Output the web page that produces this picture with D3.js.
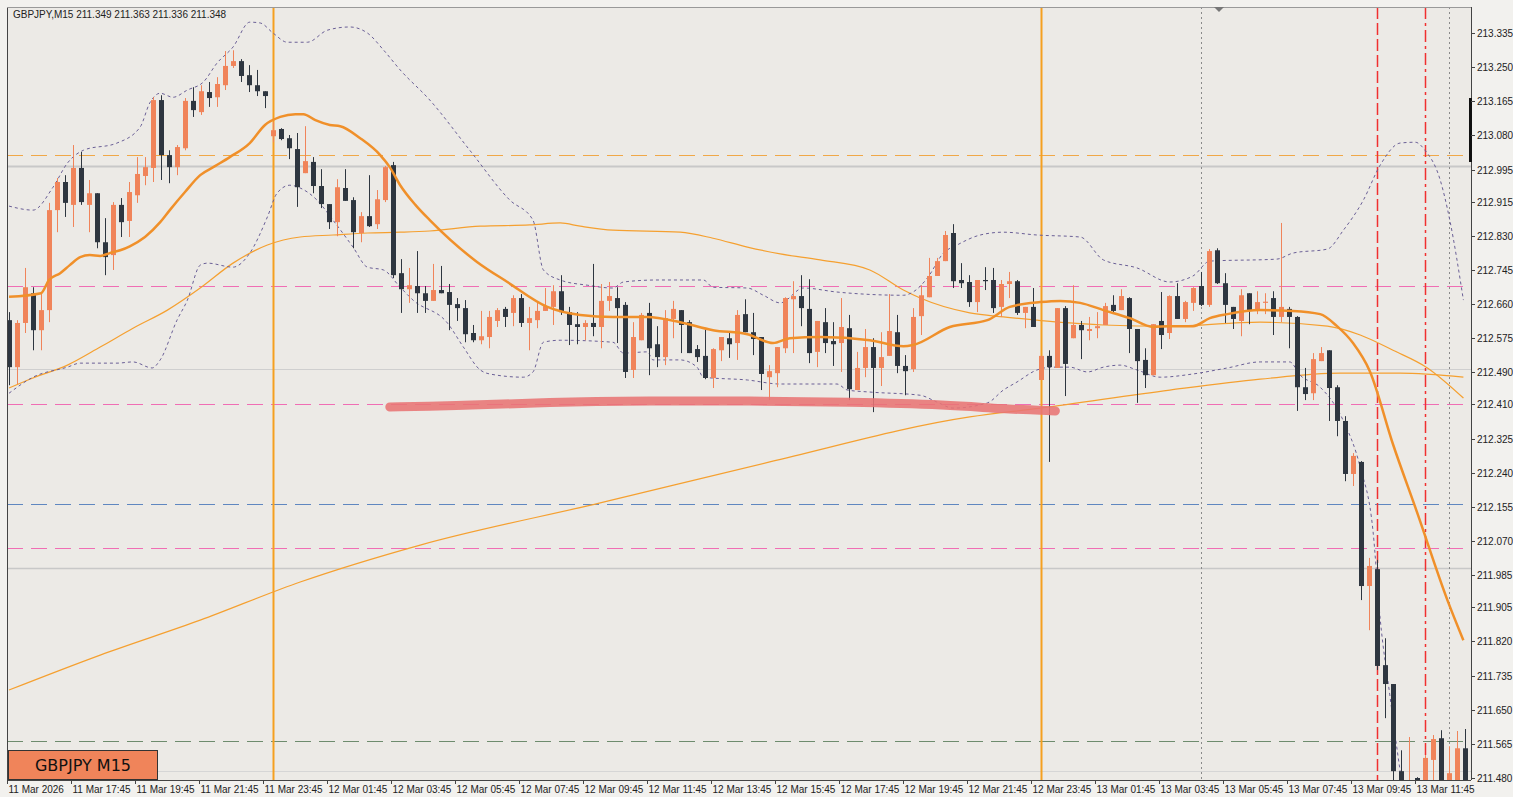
<!DOCTYPE html>
<html><head><meta charset="utf-8">
<script src="https://cdn.jsdelivr.net/npm/d3@7"></script>
<style>html,body{margin:0;padding:0;background:#fff;overflow:hidden}svg{display:block}</style>
</head><body><svg id="c" width="1513" height="797"></svg>
<script>
const opens=[212.620,212.503,212.613,212.687,212.595,212.645,212.894,212.964,212.907,212.999,
212.907,212.936,212.814,212.782,212.907,212.867,212.931,212.979,212.999,213.168,
213.031,213.001,213.048,213.166,213.138,213.188,213.175,213.205,213.253,213.265,
213.230,213.205,213.190,213.078,213.096,213.073,213.046,212.986,213.014,212.954,
212.909,212.864,212.949,212.919,212.837,212.879,212.859,212.919,213.006,212.737,
212.697,212.705,212.687,212.668,212.695,212.690,212.660,212.650,212.588,212.570,
212.578,212.618,212.648,212.638,212.675,212.613,212.620,212.643,212.653,212.692,
212.640,212.610,212.603,212.613,212.603,212.668,212.675,212.658,212.496,212.570,
212.638,212.560,212.528,212.623,212.645,212.615,212.548,212.531,212.476,212.545,
212.575,212.563,212.635,212.590,212.578,212.478,212.488,212.550,212.672,212.680,
212.648,212.541,212.615,212.568,212.563,212.600,212.446,212.501,212.553,212.501,
212.531,212.590,212.506,212.498,212.630,212.677,212.730,212.767,212.837,212.720,
212.715,212.665,212.720,212.720,212.653,212.710,212.717,212.638,212.653,212.471,
212.531,212.501,212.650,212.575,212.608,212.593,212.600,212.608,212.658,212.645,
212.675,212.598,212.521,212.483,212.618,212.588,212.680,212.623,212.663,212.705,
212.658,212.794,212.712,212.653,212.618,212.687,212.645,212.663,212.675,212.628,
212.648,212.628,212.453,212.438,212.518,212.545,212.453,212.369,212.237,212.267,
211.958,212.000,211.761,211.714,211.497,211.425,211.480,211.450,211.525,211.579,
211.450,211.467,211.554];
const highs=[212.640,212.620,212.750,212.702,212.687,212.912,212.974,212.981,213.056,213.039,
212.969,212.936,212.874,212.914,212.924,212.964,213.026,213.026,213.175,213.180,
213.043,213.056,213.173,213.200,213.205,213.213,213.225,213.290,213.292,213.270,
213.255,213.243,213.190,213.113,213.098,213.081,213.086,213.103,213.026,212.996,
212.909,212.971,212.996,212.926,212.889,212.981,212.944,213.004,213.014,212.772,
212.750,212.792,212.705,212.760,212.755,212.710,212.675,212.670,212.608,212.643,
212.643,212.650,212.653,212.682,212.685,212.653,212.665,212.700,212.707,212.732,
212.653,212.640,212.620,212.760,212.710,212.715,212.702,212.665,212.615,212.638,
212.663,212.605,212.645,212.668,212.645,212.620,212.558,212.598,212.550,212.578,
212.588,212.645,212.672,212.638,212.578,212.508,212.553,212.677,212.717,212.732,
212.722,212.618,212.650,212.615,212.675,212.633,212.541,212.598,212.575,212.590,
212.685,212.633,212.533,212.650,212.707,212.775,212.775,212.842,212.859,212.762,
212.732,212.720,212.752,212.750,212.720,212.740,212.720,212.653,212.700,212.531,
212.545,212.650,212.655,212.707,212.618,212.628,212.640,212.663,212.682,212.697,
212.677,212.598,212.550,212.610,212.690,212.682,212.712,212.668,212.702,212.740,
212.797,212.799,212.737,212.653,212.697,212.687,212.692,212.687,212.692,212.862,
212.653,212.630,212.501,212.538,212.553,212.545,212.458,212.381,212.289,212.269,
212.028,212.023,211.828,211.714,211.549,211.582,211.482,211.537,211.587,211.599,
211.559,211.597,211.602];
const lows=[212.458,212.461,212.588,212.545,212.545,212.615,212.839,212.877,212.852,212.907,
212.839,212.799,212.732,212.745,212.827,212.827,212.912,212.956,212.964,212.969,
212.961,212.981,213.043,213.126,213.131,213.151,213.151,213.193,213.248,213.213,
213.188,213.178,213.148,213.063,213.068,213.021,212.902,212.986,212.936,212.899,
212.847,212.829,212.917,212.799,212.814,212.852,212.847,212.914,212.725,212.638,
212.663,212.638,212.638,212.668,212.687,212.595,212.618,212.565,212.565,212.560,
212.550,212.603,212.603,212.605,212.603,212.545,212.600,212.643,212.608,212.633,
212.558,212.560,212.570,212.580,212.550,212.643,212.563,212.476,212.476,212.570,
212.483,212.503,212.508,212.575,212.538,212.538,212.516,212.473,212.451,212.518,
212.526,212.521,212.590,212.533,212.446,212.421,212.453,212.538,212.538,212.605,
212.513,212.503,212.538,212.506,212.491,212.421,212.446,212.478,212.391,212.456,
212.531,212.488,212.433,212.491,212.583,212.677,212.730,212.767,212.700,212.700,
212.653,212.640,212.695,212.638,212.628,212.675,212.633,212.600,212.603,212.471,
212.267,212.501,212.431,212.575,212.523,212.570,212.575,212.608,212.638,212.645,
212.538,212.414,212.451,212.483,212.548,212.573,212.623,212.615,212.643,212.655,
212.653,212.710,212.613,212.598,212.580,212.610,212.635,212.635,212.583,212.615,
212.550,212.394,212.421,212.421,212.518,212.369,212.331,212.219,212.207,211.923,
211.848,211.749,211.629,211.467,211.425,211.413,211.462,211.437,211.467,211.450,
211.437,211.450,211.450];
const closes=[212.503,212.613,212.702,212.595,212.645,212.894,212.964,212.912,212.999,212.914,
212.936,212.814,212.777,212.907,212.864,212.939,212.984,213.001,213.168,213.031,
213.001,213.051,213.166,213.143,213.190,213.173,213.208,213.253,213.265,213.228,
213.205,213.190,213.178,213.093,213.071,213.048,212.951,213.016,212.954,212.909,
212.864,212.951,212.917,212.839,212.879,212.854,212.921,213.001,212.732,212.697,
212.707,212.687,212.668,212.695,212.687,212.658,212.650,212.585,212.570,212.580,
212.628,212.645,212.628,212.675,212.613,212.625,212.643,212.655,212.692,212.640,
212.608,212.603,212.613,212.603,212.668,212.680,212.650,212.491,212.578,212.633,
212.550,212.528,212.625,212.648,212.608,212.538,212.528,212.476,212.548,212.578,
212.560,212.633,212.590,212.573,212.486,212.493,212.553,212.675,212.680,212.650,
212.538,212.618,212.563,212.560,212.603,212.448,212.501,212.553,212.501,212.528,
212.593,212.506,212.493,212.628,212.682,212.730,212.767,212.832,212.717,212.712,
212.665,212.720,212.717,212.650,212.710,212.717,212.638,212.653,212.603,212.531,
212.503,212.650,212.511,212.608,212.595,212.598,212.605,212.655,212.643,212.680,
212.598,212.518,212.483,212.610,212.583,212.680,212.623,212.665,212.700,212.658,
212.792,212.712,212.658,212.623,212.682,212.645,212.665,212.666,212.628,212.653,
212.628,212.453,212.436,212.523,212.538,212.451,212.369,212.237,212.282,211.958,
212.008,211.759,211.714,211.497,211.450,211.462,211.475,211.530,211.577,211.450,
211.492,211.554,211.462];

// indicator readings: [bar index, price]
const maFast=[[0,212.678],[4,212.687],[5,212.720],[6.4,212.737],[7.6,212.757],[8.9,212.777],[10.1,212.782],[11.4,212.780],[12.6,212.787],[13.9,212.794],[15.1,212.804],[17,212.827],[18.9,212.864],[20.1,212.894],[22,212.939],[23.9,212.981],[25.8,213.004],[27.6,213.026],[30.1,213.061],[32,213.106],[33.9,213.126],[35.8,213.133],[36.8,213.133],[38.3,213.118],[40.1,213.106],[41.4,213.103],[43.9,213.073],[46.4,213.031],[47.6,213.001],[48.9,212.956],[50.8,212.907],[52.6,212.869],[58.5,212.765],[62.3,212.715],[67.3,212.653],[71.4,212.633],[75.5,212.628],[79.8,212.628],[83.9,212.615],[88,212.595],[92.3,212.585],[95.5,212.563],[97.6,212.575],[101.4,212.578],[107.6,212.570],[111.8,212.555],[113,212.558],[117.6,212.603],[122.3,212.620],[125.1,212.653],[128.9,212.665],[131.4,212.668],[133.9,212.663],[136.8,212.645],[140.1,212.625],[143,212.603],[145.1,212.605],[148,212.605],[150.1,212.625],[152.3,212.635],[156.4,212.645],[160.5,212.643],[163.9,212.635],[166,212.605],[168,212.563],[170.1,212.493],[173,212.311],[176,212.142],[179.8,211.923],[181.8,211.823]];
const maMid=[[0,212.451],[3,212.476],[7.3,212.508],[11.4,212.553],[15.5,212.600],[19.8,212.645],[23.9,212.700],[28,212.762],[32.3,212.807],[36.4,212.827],[40.5,212.832],[44.8,212.837],[48.9,212.839],[52.6,212.842],[58.9,212.854],[65.1,212.857],[68.9,212.862],[71.4,212.854],[75.5,212.844],[83.9,212.839],[88,212.824],[92.3,212.802],[96.4,212.785],[101.4,212.770],[107.6,212.745],[111.8,212.695],[113.9,212.675],[120.1,212.638],[124.3,212.628],[128.5,212.620],[132.6,212.613],[136.8,212.608],[145.1,212.605],[156.4,212.615],[164.8,212.605],[168.9,212.583],[173,212.545],[177.3,212.501],[181.8,212.426]];
const maSlow=[[0,211.699],[11.4,211.786],[23.9,211.873],[36.4,211.968],[51.4,212.060],[73.9,212.165],[95.1,212.267],[120.1,212.379],[128.9,212.401],[145.1,212.446],[156.4,212.473],[166.4,212.488],[173.9,212.488],[181.8,212.478]];
const bbUpper=[[0,212.904],[3,212.894],[5.5,212.951],[7.3,213.011],[9.3,213.043],[13.5,213.061],[16.4,213.101],[17.6,213.161],[18.9,213.185],[20.5,213.175],[22.3,213.193],[24.3,213.213],[26,213.260],[28,213.300],[30.1,213.362],[31.4,213.360],[33,213.335],[34.8,213.312],[37.3,213.312],[39.8,213.342],[42.6,213.350],[44.8,213.335],[46.8,213.293],[48.9,213.243],[52.6,213.168],[57.6,213.043],[62.6,212.919],[65.5,212.869],[66.8,212.745],[68.9,212.720],[72.3,212.707],[75.5,212.700],[76.8,212.715],[81,212.720],[86.8,212.720],[88,212.702],[92.3,212.700],[94.3,212.682],[96.4,212.663],[99.3,212.700],[103.5,212.690],[111.8,212.682],[113,212.690],[114.8,212.725],[116.8,212.787],[118.5,212.807],[121.4,212.832],[124.3,212.839],[128.5,212.832],[133.9,212.827],[136.8,212.770],[141,212.750],[145.1,212.715],[148,212.730],[150.1,212.767],[158.5,212.772],[160.5,212.787],[164.8,212.797],[166.8,212.844],[169.3,212.919],[171.4,213.006],[173.9,213.061],[175.8,213.063],[177,213.043],[178.9,212.969],[180.1,212.869],[181.8,212.670]];
const bbLower=[[0,212.438],[3,212.478],[7.3,212.503],[8.9,212.513],[13.5,212.513],[15.5,212.516],[17.9,212.501],[18.9,212.521],[21,212.620],[22.3,212.670],[23.9,212.757],[24.8,212.762],[28,212.752],[30.1,212.787],[32.3,212.877],[33.5,212.936],[35.1,212.956],[36.4,212.949],[38.5,212.919],[40.5,212.869],[43,212.802],[44.8,212.752],[46.8,212.745],[48.9,212.702],[50.5,212.670],[54.8,212.613],[56.8,212.553],[58.9,212.496],[60.1,212.486],[64.3,212.478],[65.5,212.491],[66.8,212.565],[68.9,212.570],[75.5,212.565],[76.8,212.538],[79.8,212.541],[80.5,212.521],[83.9,212.521],[86,212.503],[86.8,212.478],[92.3,212.471],[96.4,212.461],[103.5,212.461],[104.8,212.446],[107.6,212.441],[113.9,212.433],[116,212.416],[118,212.401],[122.3,212.414],[124.3,212.446],[126,212.466],[128.5,212.496],[130.5,212.503],[132.6,212.503],[134.8,212.491],[136.8,212.503],[138.9,212.508],[141,212.496],[143.9,212.478],[148,212.486],[152.3,212.501],[156.4,212.516],[160.1,212.516],[161.4,212.483],[163.9,212.453],[166.8,212.369],[168.9,212.254],[170.5,212.095],[171.4,211.876],[172.6,211.687],[173.9,211.497],[175.1,211.350]];
const highlight=[[47.6,212.404],[55.1,212.406],[67.6,212.416],[80.1,212.419],[92.6,212.419],[105.1,212.416],[117.6,212.409],[123.9,212.399],[130.8,212.394]];

const hLevels=[{p:213.031,c:"#F0A848",d:"16,8",w:1},{p:212.705,c:"#F06EB4",d:"16,8",w:1},{p:212.411,c:"#F06EB4",d:"16,8",w:1},{p:212.162,c:"#5F87C0",d:"16,8",w:1},{p:212.052,c:"#F06EB4",d:"16,8",w:1},{p:211.572,c:"#6E8C6E",d:"16,8",w:1},
{p:213.004,c:"#C8C8C8",d:null,w:2},{p:212.498,c:"#CFCFCF",d:null,w:1},{p:212.003,c:"#C8C8C8",d:null,w:1.5},{p:211.497,c:"#D6D6D6",d:null,w:1}];
const vLevels=[{i:33,c:"#F5A020",d:null,w:2},{i:129,c:"#F5A020",d:null,w:2},{i:149,c:"#8A8A8A",d:"2,3",w:1},{i:180,c:"#8A8A8A",d:"2,3",w:1},{i:171,c:"#F03030",d:"12,4",w:1.5},{i:177,c:"#F03030",d:"12,4,3,4",w:1.5}];
const priceTicks=["213.335","213.250","213.165","213.080","212.995","212.915","212.830","212.745","212.660","212.575","212.490","212.410","212.325","212.240","212.155","212.070","211.985","211.905","211.820","211.735","211.650","211.565","211.480"];
const timeLabels=["11 Mar 2026","11 Mar 17:45","11 Mar 19:45","11 Mar 21:45","11 Mar 23:45","12 Mar 01:45","12 Mar 03:45","12 Mar 05:45","12 Mar 07:45","12 Mar 09:45","12 Mar 11:45","12 Mar 13:45","12 Mar 15:45","12 Mar 17:45","12 Mar 19:45","12 Mar 21:45","12 Mar 23:45","13 Mar 01:45","13 Mar 03:45","13 Mar 05:45","13 Mar 07:45","13 Mar 09:45","13 Mar 11:45"];

const L=7,R=1471,T=7,B=780;
const svg=d3.select("#c");
const x=d3.scaleLinear().domain([0,182]).range([9,1465]);
const y=d3.scaleLinear().domain([211.480,213.335]).range([778,33]);
const font="'Liberation Sans',Arial,sans-serif";

svg.append("rect").attr("width",1513).attr("height",797).attr("fill","#F2F1EE");
svg.append("rect").attr("x",L).attr("y",T).attr("width",R-L).attr("height",B-T).attr("fill","#ECEAE6");
svg.append("defs").append("clipPath").attr("id","clip").append("rect").attr("x",L).attr("y",T).attr("width",R-L).attr("height",B-T);
const g=svg.append("g").attr("clip-path","url(#clip)");

hLevels.forEach(h=>{g.append("line").attr("x1",L).attr("x2",R).attr("y1",Math.round(y(h.p))+0.5).attr("y2",Math.round(y(h.p))+0.5)
 .attr("stroke",h.c).attr("stroke-width",h.w).attr("stroke-dasharray",h.d);});
vLevels.forEach(v=>{g.append("line").attr("x1",Math.round(x(v.i))+0.5).attr("x2",Math.round(x(v.i))+0.5).attr("y1",T).attr("y2",B)
 .attr("stroke",v.c).attr("stroke-width",v.w).attr("stroke-dasharray",v.d);});

const ln=d3.line().x(d=>x(d[0])).y(d=>y(d[1])).curve(d3.curveMonotoneX);
g.append("path").attr("d",ln(maSlow)).attr("fill","none").attr("stroke","#F5A030").attr("stroke-width",1.2);
g.append("path").attr("d",ln(maMid)).attr("fill","none").attr("stroke","#F5A030").attr("stroke-width",1.2);
g.append("path").attr("d",ln(bbUpper)).attr("fill","none").attr("stroke","#6A5F96").attr("stroke-width",1).attr("stroke-dasharray","3,3");
g.append("path").attr("d",ln(bbLower)).attr("fill","none").attr("stroke","#6A5F96").attr("stroke-width",1).attr("stroke-dasharray","3,3");

const idx=d3.range(opens.length);
g.selectAll(".wick").data(idx).join("line").attr("x1",i=>Math.round(x(i))+0.5).attr("x2",i=>Math.round(x(i))+0.5)
 .attr("y1",i=>y(highs[i])).attr("y2",i=>y(lows[i]))
 .attr("stroke",i=>closes[i]>=opens[i]?"#F0845A":"#2E3640").attr("stroke-width",1);
g.selectAll(".body").data(idx).join("rect").attr("x",i=>Math.round(x(i))-2).attr("width",5)
 .attr("y",i=>y(Math.max(opens[i],closes[i]))).attr("height",i=>Math.max(1,Math.abs(y(opens[i])-y(closes[i]))))
 .attr("fill",i=>closes[i]>=opens[i]?"#F0845A":"#2E3640");

g.append("path").attr("d",ln(maFast)).attr("fill","none").attr("stroke","#F0902A").attr("stroke-width",2.5);
g.append("path").attr("d",d3.line().x(d=>x(d[0])).y(d=>y(d[1])).curve(d3.curveBasis)(highlight)).attr("fill","none")
 .attr("stroke","#E87474").attr("stroke-opacity",0.88).attr("stroke-width",9).attr("stroke-linecap","round");

// frame
svg.append("line").attr("x1",L+0.5).attr("x2",L+0.5).attr("y1",T).attr("y2",B).attr("stroke","#444");
svg.append("line").attr("x1",R+0.5).attr("x2",R+0.5).attr("y1",T).attr("y2",B).attr("stroke","#444");
svg.append("line").attr("x1",L).attr("x2",R).attr("y1",B+0.5).attr("y2",B+0.5).attr("stroke","#444");
svg.append("line").attr("x1",L).attr("x2",R).attr("y1",T+0.5).attr("y2",T+0.5).attr("stroke","#999");
svg.append("rect").attr("x",1469).attr("y",98).attr("width",3).attr("height",64).attr("fill","#111");
svg.append("path").attr("d","M1214,7 L1224,7 L1219,12 Z").attr("fill","#777");

// price axis
priceTicks.forEach(t=>{const yy=Math.round(y(+t))+0.5;
 svg.append("line").attr("x1",R).attr("x2",R+4).attr("y1",yy).attr("y2",yy).attr("stroke","#444");
 svg.append("text").attr("x",1477).attr("y",yy+3.5).text(t).attr("font-family",font).attr("font-size",10).attr("fill","#222");});
// time axis
timeLabels.forEach((t,k)=>{const xx=Math.round(x(8*k))-1.5;
 svg.append("line").attr("x1",xx).attr("x2",xx).attr("y1",B).attr("y2",B+4).attr("stroke","#444");
 svg.append("text").attr("x",xx+1).attr("y",793).text(t).attr("font-family",font).attr("font-size",10).attr("fill","#222");});

svg.append("text").attr("x",13).attr("y",18).text("GBPJPY,M15  211.349 211.363 211.336 211.348").attr("font-family",font).attr("font-size",10).attr("fill","#222");
svg.append("rect").attr("x",8.5).attr("y",750.5).attr("width",149).attr("height",29).attr("fill","#F0845A").attr("stroke","#333");
svg.append("text").attr("x",83).attr("y",771).attr("text-anchor","middle").text("GBPJPY M15").attr("font-family","'DejaVu Sans',sans-serif").attr("font-size",16).attr("fill","#111");
</script></body></html>
